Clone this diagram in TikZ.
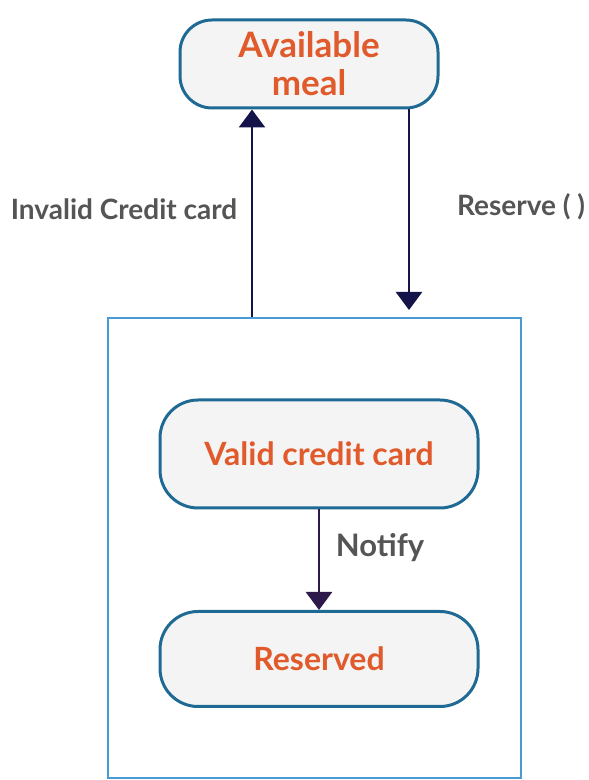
\documentclass[tikz,border=0pt]{standalone}
\usepackage{fontspec}
\setmainfont{Lato}
\usepackage{xcolor}
\usetikzlibrary{positioning, arrows.meta}

\definecolor{stateedge}{HTML}{1F6A94}
\definecolor{framecol}{HTML}{4A9AD4}
\definecolor{statetext}{HTML}{E05A2B}
\definecolor{labeltext}{HTML}{555555}
\definecolor{navy}{HTML}{14144A}
\definecolor{plum}{HTML}{2D1A4A}

\begin{document}
\begin{tikzpicture}[x=1pt, y=1pt,
	state/.style={draw=stateedge, line width=3pt, fill=gray!9, rounded corners=38pt,
		minimum width=318pt, align=center, text=statetext, font=\bfseries\fontsize{32}{34}\selectfont},
	lbl/.style={text=labeltext, font=\bfseries\fontsize{28}{32}\selectfont},
	flow/.style={line width=2.5pt, -{Triangle[width=26pt, length=18pt]}}]
	\useasboundingbox (0, 0) rectangle (589, 780);

	\node[draw=framecol, line width=2pt, minimum width=413pt, minimum height=460pt] (frame) at (314.5, 232) {};  % superstate

	\node[state, minimum width=258pt, minimum height=88pt, rounded corners=32pt,
		font=\bfseries\fontsize{35}{38}\selectfont] (meal) at (309, 716) {Available\\meal};
	\node[state, minimum height=108pt] (valid) at (319, 326) {Valid credit card};
	\node[state, minimum height=95pt] (reserved) at (319, 121) {Reserved};

	\coordinate (stop) at (409, 470);

	\draw[flow, navy] (frame.north -| 252, 0) -- (meal.south -| 252, 0);  % invalid
	\draw[flow, navy] (meal.south -| stop) -- (stop);  % reserve
	\draw[flow, plum] (valid) -- (reserved);

	\node[lbl] (invalid) at (124, 571) {Invalid Credit card};
	\node[lbl] (reserve) at (521, 573) {Reserve ( )};
	\node[lbl, font=\bfseries\fontsize{31}{34}\selectfont] (notify) at (380, 232) {Notify};

\end{tikzpicture}
\end{document}
